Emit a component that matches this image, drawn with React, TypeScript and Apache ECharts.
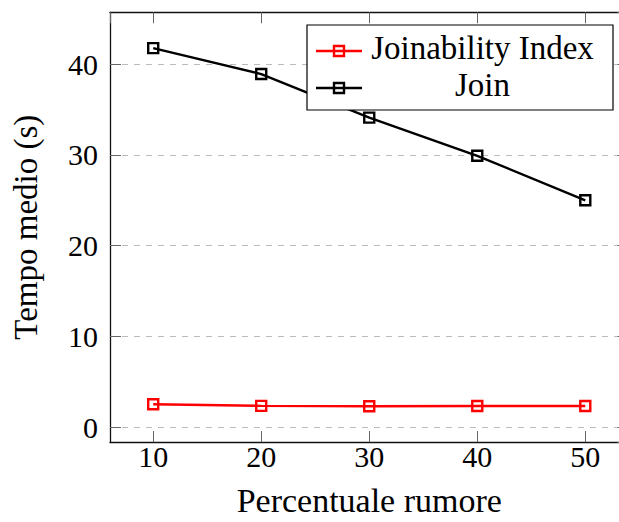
import React, { useEffect, useRef } from "react";
import * as echarts from "echarts";

const xValues = [10, 20, 30, 40, 50];
const joinabilityIndex = [2.55, 2.37, 2.33, 2.35, 2.35];
const joinTimes = [41.76, 38.9, 34.1, 29.9, 25.0];
const seriesNames = ["Joinability Index", "Join"];
const seriesColors = ["#ff0000", "#000000"];
const xLabel = "Percentuale rumore";
const yLabel = "Tempo medio (s)";

const X_MIN = 6;
const X_MAX = 54;
const Y_MIN = -1.61;
const Y_MAX = 45.7;

const FONT = "Liberation Serif";
const TICK_FS = 30;
const NAME_FS = 33;
const CHART_W = 640;

export default function App() {
  const ref = useRef<HTMLDivElement>(null);
  useEffect(() => {
    if (!ref.current) return;
    const chart = echarts.init(ref.current, undefined, { renderer: "svg" });
    const allSeries = [joinabilityIndex, joinTimes];
    const fmt = (v: number) => (Math.abs(v % 10) < 1e-9 ? String(Math.round(v)) : "");
    const axisLine = { show: true, onZero: false, lineStyle: { color: "#111", width: 1.3 } };
    const axisTick = { show: true, inside: true, length: 11, lineStyle: { color: "#666", width: 1 } };
    const labelStyle = {
      color: "#000",
      fontSize: TICK_FS,
      fontFamily: FONT,
      showMinLabel: false,
      showMaxLabel: false,
      formatter: fmt,
    };
    const legendLineY = [51, 88];
    const legendGraphics: any[] = [
      {
        type: "rect",
        shape: { x: 307, y: 25, width: 306, height: 85 },
        style: { fill: "#fff", stroke: "#000", lineWidth: 1.2 },
        z: 100,
      },
    ];
    seriesNames.forEach((name, i) => {
      const y = legendLineY[i];
      legendGraphics.push(
        {
          type: "line",
          shape: { x1: 316, y1: y, x2: 362, y2: y },
          style: { stroke: seriesColors[i], lineWidth: 2.4 },
          z: 101,
        },
        {
          type: "rect",
          shape: { x: 334, y: y - 5, width: 10, height: 10 },
          style: { fill: "none", stroke: seriesColors[i], lineWidth: 2.4 },
          z: 102,
        },
        {
          type: "text",
          x: 482.5,
          y: y - 3,
          style: {
            text: name,
            fill: "#000",
            fontSize: NAME_FS,
            fontFamily: FONT,
            align: "center",
            verticalAlign: "middle",
          },
          z: 102,
        }
      );
    });

    chart.setOption({
      animation: false,
      backgroundColor: "#fff",
      grid: { left: 110, top: 12.3, right: CHART_W - 628.5, bottom: 79.7, containLabel: false },
      xAxis: [
        {
          type: "value",
          position: "bottom",
          min: X_MIN,
          max: X_MAX,
          splitNumber: 5,
          axisLine,
          axisTick,
          axisLabel: { ...labelStyle, margin: -1 },
          splitLine: { show: false },
          name: xLabel,
          nameLocation: "middle",
          nameGap: 41,
          nameTextStyle: { color: "#000", fontSize: 34, fontFamily: FONT },
        },
        {
          type: "value",
          position: "top",
          min: X_MIN,
          max: X_MAX,
          splitNumber: 5,
          axisLine,
          axisTick,
          axisLabel: { show: false },
          splitLine: { show: false },
        },
      ],
      yAxis: [
        {
          type: "value",
          position: "left",
          min: Y_MIN,
          max: Y_MAX,
          splitNumber: 5,
          axisLine,
          axisTick,
          axisLabel: { ...labelStyle, margin: 12 },
          splitLine: { show: true, lineStyle: { color: "#bbb", width: 1, type: [6, 6] } },
          name: yLabel,
          nameLocation: "middle",
          nameGap: 68,
          nameTextStyle: { color: "#000", fontSize: NAME_FS, fontFamily: FONT },
        },
        {
          type: "value",
          position: "right",
          min: Y_MIN,
          max: Y_MAX,
          splitNumber: 5,
          axisLine,
          axisTick,
          axisLabel: { show: false },
          splitLine: { show: false },
        },
      ],
      series: seriesNames.map((name, i) => ({
        name,
        type: "line",
        xAxisIndex: 0,
        yAxisIndex: 0,
        data: xValues.map((x, j) => [x, allSeries[i][j]]),
        symbol: "rect",
        symbolSize: 10,
        lineStyle: { color: seriesColors[i], width: 2.4 },
        itemStyle: { color: "transparent", borderColor: seriesColors[i], borderWidth: 2.4 },
        z: 10,
      })),
      graphic: legendGraphics,
    });
    return () => chart.dispose();
  }, []);
  return (
    <div
      style={{
        position: "absolute",
        left: 0,
        top: 0,
        width: 619,
        height: 522,
        overflow: "hidden",
        background: "#fff",
      }}
    >
      <div ref={ref} style={{ width: CHART_W, height: 522 }} />
    </div>
  );
}
